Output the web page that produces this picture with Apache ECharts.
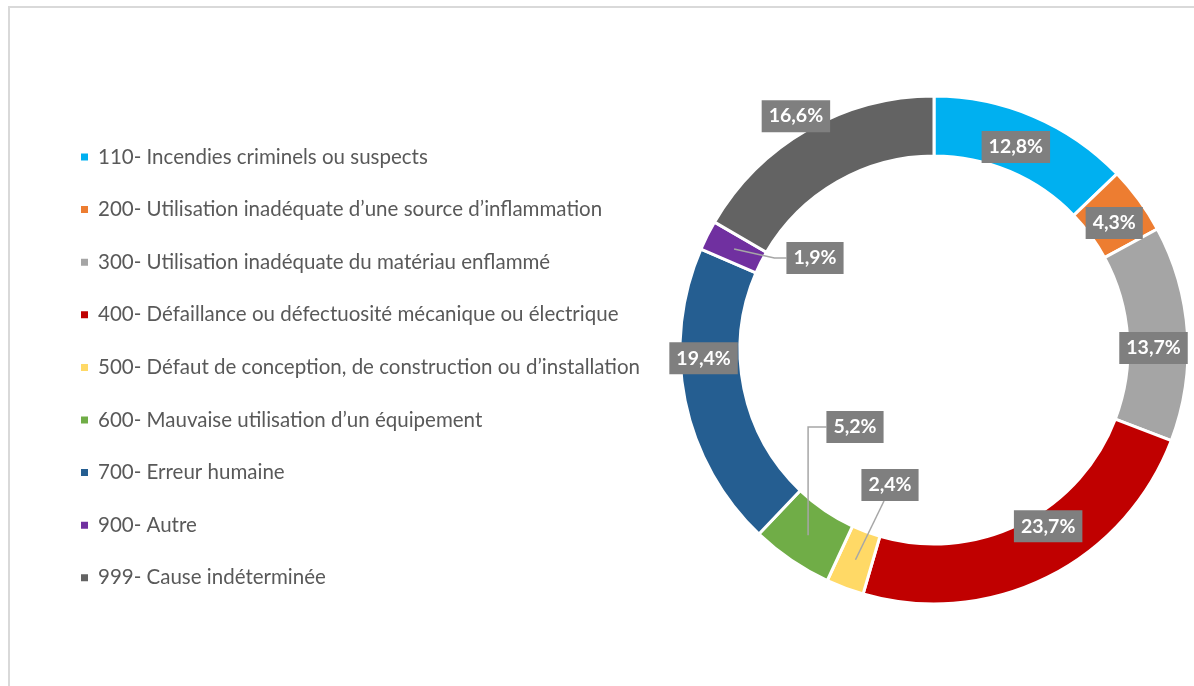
<!DOCTYPE html>
<html>
<head>
<meta charset="utf-8">
<script src="https://cdn.jsdelivr.net/npm/echarts@6/dist/echarts.min.js"></script>
<style>
  html, body { margin: 0; padding: 0; background: #fff; }
  #chart { width: 1194px; height: 686px; }
</style>
</head>
<body>
<div id="chart"></div>
<script>
// causes d'incendie (%)
const categories = [
  "110- Incendies criminels ou suspects",
  "200- Utilisation inadéquate d’une source d’inflammation",
  "300- Utilisation inadéquate du matériau enflammé",
  "400- Défaillance ou défectuosité mécanique ou électrique",
  "500- Défaut de conception, de construction ou d’installation",
  "600- Mauvaise utilisation d’un équipement",
  "700- Erreur humaine",
  "900- Autre",
  "999- Cause indéterminée"
];
const values = [12.8, 4.3, 13.7, 23.7, 2.4, 5.2, 19.4, 1.9, 16.6];
const colors = ["#00B0F0", "#ED7D31", "#A5A5A5", "#C00000", "#FFD966", "#70AD47", "#255E91", "#7030A0", "#636363"];

// labels drawn with a leader line (small slices)
const callouts = [4, 5, 7];
// nudges for the labels sitting on the ring
const insideShift = {
  0: [-7, 6], 1: [-3, 7], 2: [-7, 13], 3: [13, -27], 6: [-8, -37], 8: [-25, -37]
};
// where the callout labels go
const calloutPos = { 4: [890, 485], 5: [855, 427], 7: [815, 258] };

const fmt = p => p.value.toFixed(1).replace(".", ",") + "%";

const labelBox = {
  color: "#fff",
  fontWeight: "bold",
  fontSize: 19.5,
  fontFamily: "Lato, 'Open Sans', sans-serif",
  backgroundColor: "#7F7F7F",
  padding: [7, 7, 5, 7],
  formatter: fmt
};

const chart = echarts.init(document.getElementById("chart"));

chart.setOption({
  backgroundColor: "#fff",
  animation: false,
  graphic: [{
    type: "rect",
    shape: { x: 9, y: 7, width: 1400, height: 900 },
    style: { fill: "none", stroke: "#D9D9D9", lineWidth: 2 },
    silent: true
  }],
  legend: {
    orient: "vertical",
    left: 74,
    top: 140,
    itemWidth: 9,
    itemHeight: 9,
    itemGap: 28.6,
    icon: "rect",
    selectedMode: false,
    data: categories,
    textStyle: {
      color: "#595959",
      fontSize: 20.5,
      lineHeight: 24,
      fontFamily: "Lato, 'Open Sans', sans-serif",
      padding: [0, 0, 0, 4]
    }
  },
  series: [
    {
      type: "pie",
      z: 2,
      center: [934, 350],
      radius: [194, 254],
      startAngle: 90,
      clockwise: true,
      avoidLabelOverlap: false,
      silent: true,
      itemStyle: { borderColor: "#fff", borderWidth: 3 },
      label: Object.assign({ position: "inside" }, labelBox),
      labelLine: { show: false },
      labelLayout: p => {
        const s = insideShift[p.dataIndex];
        return s ? { dx: s[0], dy: s[1] } : {};
      },
      data: categories.map((name, i) => ({
        name: name,
        value: values[i],
        itemStyle: { color: colors[i] },
        label: { show: callouts.indexOf(i) < 0 }
      }))
    },
    {
      // invisible helper ring: anchors leader lines at the middle of the band
      type: "pie",
      z: 5,
      center: [934, 350],
      radius: [0, 224],
      startAngle: 90,
      clockwise: true,
      avoidLabelOverlap: false,
      silent: true,
      itemStyle: { color: "rgba(0,0,0,0)", borderWidth: 0 },
      label: Object.assign({ position: "outside" }, labelBox),
      labelLine: { show: true, length: 10, length2: 10, lineStyle: { color: "#A6A6A6", width: 1.5 } },
      labelLayout: p => {
        const c = calloutPos[p.dataIndex];
        if (!c) return {};
        const a = p.labelLinePoints ? p.labelLinePoints[0] : c;
        const hw = p.labelRect.width / 2, hh = p.labelRect.height / 2;
        let pts;
        if (p.dataIndex === 5) {
          pts = [a, [a[0], c[1]], [c[0] - hw, c[1]]];
        } else if (p.dataIndex === 7) {
          pts = [a, [c[0] - hw - 12, c[1]], [c[0] - hw, c[1]]];
        } else {
          pts = [a, [c[0] - 6, c[1] + hh], [c[0] - 6, c[1] + hh]];
        }
        return { x: c[0], y: c[1], align: "center", verticalAlign: "middle", labelLinePoints: pts };
      },
      data: categories.map((name, i) => ({
        name: name,
        value: values[i],
        label: { show: callouts.indexOf(i) >= 0 },
        labelLine: { show: callouts.indexOf(i) >= 0 }
      }))
    }
  ]
});
</script>
</body>
</html>
